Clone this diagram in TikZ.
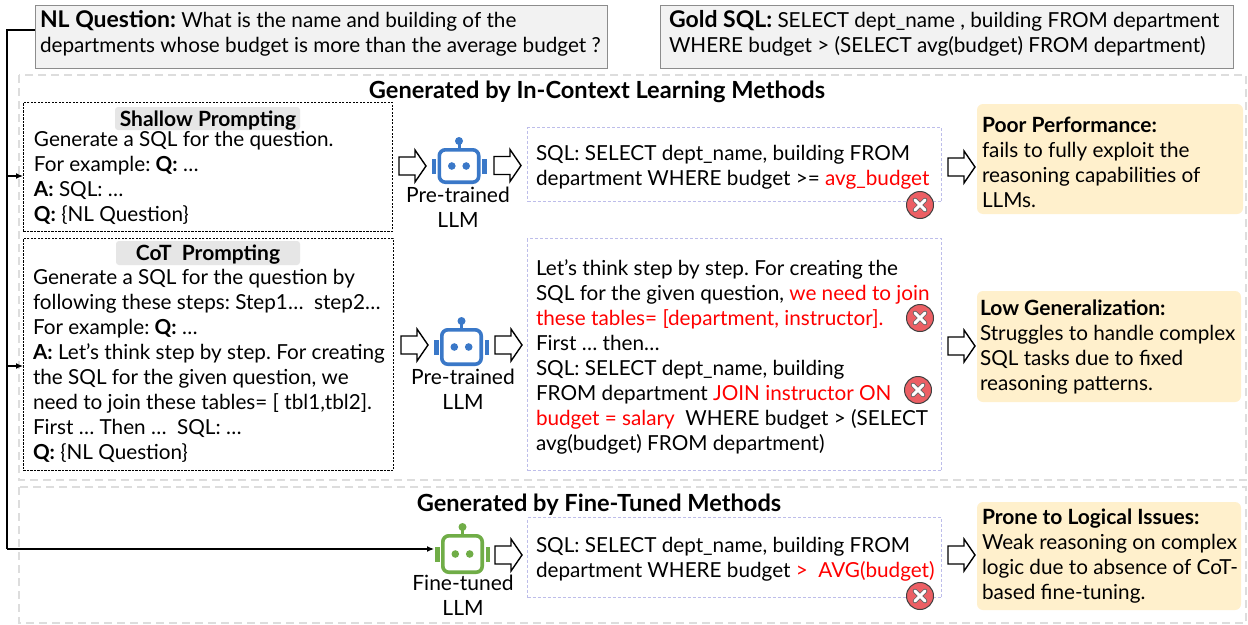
\documentclass[tikz,border=0pt]{standalone}
\usepackage{fontspec}
\setmainfont{Lato}
\usetikzlibrary{arrows.meta}
\frenchspacing
\definecolor{boxgray}{HTML}{F2F2F2}
\definecolor{boxedge}{HTML}{8C8C8C}
\definecolor{outerd}{HTML}{DDDDDD}
\definecolor{titlegray}{HTML}{E6E6E6}
\definecolor{sqledge}{HTML}{BDBDEA}
\definecolor{noteyellow}{HTML}{FFF0CC}
\definecolor{robotblue}{HTML}{3A78C8}
\definecolor{robotgreen}{HTML}{70AD47}
\definecolor{errred}{HTML}{EC5F64}
\definecolor{erredge}{HTML}{404040}
\tikzset{
  x=1pt,y=-1pt,
  body/.style={inner sep=0pt,outer sep=0pt,align=left,anchor=north west,font=\fontsize{20.7}{25}\selectfont},
  region/.style={draw=outerd,line width=1.3pt,dash pattern=on 8pt off 5pt},
  promptbox/.style={draw=black,line width=0.9pt,dash pattern=on 2.2pt off 1.3pt},
  sqlbox/.style={draw=sqledge,line width=1pt,dash pattern=on 3pt off 2pt},
  topbox/.style={draw=boxedge,fill=boxgray,line width=1pt},
  notebox/.style={fill=noteyellow,rounded corners=6pt},
  titlechip/.style={fill=titlegray,rounded corners=3pt},
  flow/.style={draw=black,line width=1.4pt,fill=white,line join=miter},
  feed/.style={draw=black,line width=1.2pt,-{Latex[length=7pt,width=6pt]}},
  heading/.style={inner sep=0pt,anchor=center,font=\fontsize{23.6}{26}\selectfont\bfseries},
  chiptext/.style={inner sep=0pt,font=\fontsize{21}{25}\selectfont\bfseries},
  llmlabel/.style={inner sep=0pt,align=center,font=\fontsize{21}{25}\selectfont},
}
\newcommand{\hollow}[2]{\draw[flow] (#1,#2-9) -- (#1+16,#2-9) -- (#1+16,#2-16) -- (#1+27,#2) -- (#1+16,#2+16) -- (#1+16,#2+9) -- (#1,#2+9) -- cycle;}
% x, y, colour, half height of the head
\newcommand{\robot}[4]{%
  \begin{scope}[shift={(#1,#2)}]
    \fill[#3] (-27.5,-7.5) rectangle (-23,7.5);
    \fill[#3] (23,-7.5) rectangle (27.5,7.5);
    \draw[#3,line width=3pt] (0,-#4+1) -- (0,-#4-7);
    \fill[#3] (0,-#4-7) circle (4pt);
    \draw[#3,line width=3.6pt,rounded corners=6pt,fill=white] (-19.7,-#4+1.8) rectangle (19.7,#4-1.8);
    \fill[#3] (-7.2,0) circle (3.8pt);
    \fill[#3] (7.2,0) circle (3.8pt);
  \end{scope}}
\newcommand{\errmark}[2]{%
  \begin{scope}[shift={(#1,#2)}]
    \draw[erredge,fill=errred,line width=1pt] (0,0) circle (13.5pt);
    \draw[erredge!80,line width=4.6pt,line cap=round] (-5,-5) -- (5,5) (-5,5) -- (5,-5);
    \draw[white,line width=3pt,line cap=round] (-5,-5) -- (5,5) (-5,5) -- (5,-5);
  \end{scope}}
\newcommand{\er}[1]{\textcolor{red}{#1}}
\newcommand{\lead}[1]{{\fontsize{23}{25}\selectfont\bfseries #1}}
\newcommand{\notehead}[1]{{\fontsize{21}{25}\selectfont\bfseries #1}}
\begin{document}
\begin{tikzpicture}
\useasboundingbox (0,0) rectangle (1248,624);
\fill[white] (0,0) rectangle (1248,624);
% regions
\path[region] (19,75) rectangle (1246,480);
\path[region] (19,487) rectangle (1246,623);
% top
\node[topbox,minimum width=572pt,minimum height=63pt,anchor=north west,inner sep=0pt] (nl) at (35,5) {};
\node[topbox,minimum width=573pt,minimum height=63pt,anchor=north west,inner sep=0pt] (gold) at (660,5) {};
\node[body] (nltext) at (40,10) {\lead{NL Question:} What is the name and building of the\\departments whose budget is more than the average budget ?};
\node[body] (goldtext) at (669,10) {\lead{Gold SQL:} SELECT dept\_name , building FROM department\\WHERE budget > (SELECT avg(budget) FROM department)};
\node[heading] (h1) at (597,92) {Generated by In-Context Learning Methods};
\node[heading] (h2) at (599,505) {Generated by Fine-Tuned Methods};
% prompts
\node[promptbox,minimum width=369pt,minimum height=129pt,anchor=north west,inner sep=0pt] (shallow) at (23,102) {};
\node[promptbox,minimum width=370pt,minimum height=232pt,anchor=north west,inner sep=0pt] (cot) at (23,238) {};
\path[titlechip] (115,107) rectangle (300,130);
\path[titlechip] (116,241) rectangle (300,265);
\node[chiptext] (t1) at (208,121) {Shallow Prompting};
\node[chiptext] (t2) at (208,255) {CoT\ \ Prompting};
\node[body] (p1) at (34,131) {Generate a SQL for the question.\\For example: \textbf{Q:} …\\\textbf{A:} SQL: …\\\textbf{Q:} \{NL Question\}};
\node[body] (p2) at (33,269) {Generate a SQL for the question by\\following these steps: Step1…\ \ step2…\\For example: \textbf{Q:} …\\\textbf{A:} Let’s think step by step. For creating\\the SQL for the given question, we\\need to join these tables= [ tbl1,tbl2].\\First … Then …\ \ SQL: …\\\textbf{Q:} \{NL Question\}};
% SQL boxes
\node[sqlbox,minimum width=414pt,minimum height=74pt,anchor=north west,inner sep=0pt] (s1) at (527,127) {};
\node[sqlbox,minimum width=414pt,minimum height=232pt,anchor=north west,inner sep=0pt] (s2) at (527,238) {};
\node[sqlbox,minimum width=414pt,minimum height=80pt,anchor=north west,inner sep=0pt] (s3) at (527,517) {};
\node[body] (s1t) at (536,145) {SQL: SELECT dept\_name, building FROM\\department WHERE budget >= \er{avg\_budget}};
\node[body] (s2t) at (536,260) {Let’s think step by step. For creating the\\SQL for the given question, \er{we need to join}\\\er{these tables= [department, instructor].}\\First … then…\\SQL: SELECT dept\_name, building\\FROM department \er{JOIN instructor ON}\\\er{budget = salary}\ \ WHERE budget > (SELECT\\avg(budget) FROM department)};
\node[body] (s3t) at (536,537) {SQL: SELECT dept\_name, building FROM\\department WHERE budget \er{>\ \ AVG(budget)}};
% notes
\path[notebox] (977,104) rectangle (1243,214);
\path[notebox] (977,291) rectangle (1241,402);
\path[notebox] (977,502) rectangle (1241,610);
\node[body] (n1) at (982,117) {\notehead{Poor Performance:}\\fails to fully exploit the\\reasoning capabilities of\\LLMs.};
\node[body] (n2) at (980,300) {\notehead{Low Generalization:}\\Struggles to handle complex\\SQL tasks due to fixed\\reasoning patterns.};
\node[body] (n3) at (982,509) {\notehead{Prone to Logical Issues:}\\Weak reasoning on complex\\logic due to absence of CoT-\\based fine-tuning.};
% hollow arrows
\hollow{399}{166}\hollow{494}{165.5}\hollow{948}{167}
\hollow{401}{345}\hollow{495}{345}\hollow{948}{346}
\hollow{495}{555}\hollow{948}{555}
% robots
\robot{459}{166}{robotblue}{18}
\robot{461.5}{347}{robotblue}{19}
\robot{462.5}{554}{robotgreen}{20}
\node[llmlabel] (l1) at (458,207) {Pre-trained\\LLM};
\node[llmlabel] (l2) at (463,389) {Pre-trained\\LLM};
\node[llmlabel] (l3) at (463,595) {Fine-tuned\\LLM};
\errmark{920}{205}\errmark{920}{318}\errmark{918}{390}\errmark{920}{596}
% feed
\coordinate (trunk) at (7,30);
\coordinate (robot3in) at (434,549);
\draw[black,line width=1.2pt] (nl.west |- trunk) -- (trunk) -- (trunk |- robot3in);
\draw[feed] (trunk |- robot3in) -- (robot3in);
\draw[feed] (trunk |- 0,176) -- (shallow.west |- 0,176);
\draw[feed] (trunk |- 0,366) -- (cot.west |- 0,366);
\end{tikzpicture}
\end{document}
